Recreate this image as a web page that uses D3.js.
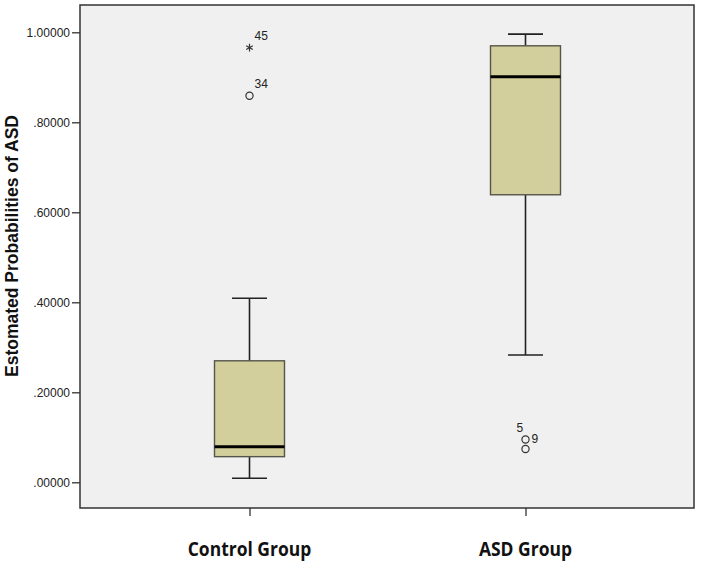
<!DOCTYPE html>
<html>
<head>
<meta charset="utf-8">
<script src="https://cdn.jsdelivr.net/npm/d3@7"></script>
<style>
html,body{margin:0;padding:0;background:#fff;}
svg{display:block;}
</style>
</head>
<body>
<svg id="chart" width="702" height="566"></svg>
<script>
const categories = ["Control Group", "ASD Group"];
const whiskerLow = [0.009, 0.283];
const q1 = [0.057, 0.639];
const median = [0.079, 0.901];
const q3 = [0.270, 0.970];
const whiskerHigh = [0.409, 0.996];
const outlierGroup = ["Control Group", "Control Group", "ASD Group", "ASD Group"];
const outlierValue = [0.966, 0.859, 0.095, 0.074];
const outlierType = ["star", "circle", "circle", "circle"];
const outlierLabel = ["45", "34", "5", "9"];
const yTicks = [0, 0.2, 0.4, 0.6, 0.8, 1.0];
const yTitle = "Estomated Probabilities of ASD";

(function () {
const svg = d3.select("#chart");
const pLeft = 80, pRight = 694, pTop = 5, pBottom = 508;

const y = d3.scaleLinear().domain([0, 1]).range([482.3, 32.3]);
const x = d3.scalePoint().domain(categories).range([249.5, 525.5]);

// plot background
svg.append("rect").attr("x", pLeft).attr("y", pTop).attr("width", pRight - pLeft).attr("height", pBottom - pTop)
  .attr("fill", "#f0f0f0").attr("stroke", "none");

const fmt = v => { const s = d3.format(".5f")(v); return s.startsWith("0") ? s.slice(1) : s; };

// y axis
const yAxis = d3.axisLeft(y).tickValues(yTicks).tickFormat(fmt).tickSize(8).tickPadding(2);
const gy = svg.append("g").attr("transform", `translate(${pLeft},0)`).call(yAxis);
gy.select(".domain").remove();
gy.selectAll(".tick line").attr("stroke", "#333").attr("stroke-width", 1.3);
gy.selectAll(".tick text").attr("font-family", "Arial, 'Liberation Sans', sans-serif").attr("font-size", "12px").attr("fill", "#222");

// x axis
const xAxis = d3.axisBottom(x).tickSize(8).tickFormat("");
const gx = svg.append("g").attr("transform", `translate(0,${pBottom})`).call(xAxis);
gx.select(".domain").remove();
gx.selectAll(".tick line").attr("stroke", "#333").attr("stroke-width", 1.3);

// x category labels
svg.append("g").selectAll("text").data(categories).join("text")
  .attr("x", d => x(d)).attr("y", 556)
  .attr("text-anchor", "middle")
  .attr("font-family", "'Open Sans', Arial, sans-serif")
  .attr("font-weight", "bold").attr("font-size", "19px").attr("fill", "#111")
  .attr("transform", d => `translate(${x(d)},556) scale(0.92,1) translate(${-x(d)},-556)`)
  .text(d => d);

// frame
svg.append("rect").attr("x", pLeft).attr("y", pTop).attr("width", pRight - pLeft).attr("height", pBottom - pTop)
  .attr("fill", "none").attr("stroke", "#333").attr("stroke-width", 1.5);

// y title
svg.append("text")
  .attr("transform", "translate(18,246) rotate(-90)")
  .attr("text-anchor", "middle")
  .attr("font-family", "Arial, 'Liberation Sans', sans-serif")
  .attr("font-weight", "bold").attr("font-size", "17.5px").attr("fill", "#111")
  .text(yTitle);

// boxes
const boxW = 70, capW = 35;
const g = svg.append("g");
categories.forEach((c, i) => {
  const cx = x(c);
  g.append("line").attr("x1", cx).attr("x2", cx).attr("y1", y(whiskerHigh[i])).attr("y2", y(q3[i]))
    .attr("stroke", "#222").attr("stroke-width", 1.6);
  g.append("line").attr("x1", cx).attr("x2", cx).attr("y1", y(q1[i])).attr("y2", y(whiskerLow[i]))
    .attr("stroke", "#222").attr("stroke-width", 1.6);
  g.append("line").attr("x1", cx - capW / 2).attr("x2", cx + capW / 2).attr("y1", y(whiskerHigh[i])).attr("y2", y(whiskerHigh[i]))
    .attr("stroke", "#222").attr("stroke-width", 1.6);
  g.append("line").attr("x1", cx - capW / 2).attr("x2", cx + capW / 2).attr("y1", y(whiskerLow[i])).attr("y2", y(whiskerLow[i]))
    .attr("stroke", "#222").attr("stroke-width", 1.6);
  g.append("rect").attr("x", cx - boxW / 2).attr("y", y(q3[i])).attr("width", boxW).attr("height", y(q1[i]) - y(q3[i]))
    .attr("fill", "#d3cf9c").attr("stroke", "#55554a").attr("stroke-width", 1.4);
  g.append("line").attr("x1", cx - boxW / 2).attr("x2", cx + boxW / 2).attr("y1", y(median[i])).attr("y2", y(median[i]))
    .attr("stroke", "#000").attr("stroke-width", 3);
});

// outliers
outlierValue.forEach((v, i) => {
  const cx = x(outlierGroup[i]), cy = y(v);
  if (outlierType[i] === "circle") {
    g.append("circle").attr("cx", cx).attr("cy", cy).attr("r", 3.6)
      .attr("fill", "none").attr("stroke", "#333").attr("stroke-width", 1.2);
  } else {
    g.append("path").attr("d", d3.symbol(d3.symbolAsterisk, 40)()).attr("transform", `translate(${cx},${cy})`)
      .attr("fill", "none").attr("stroke", "#333").attr("stroke-width", 1.2);
  }
});

// outlier labels
const labelDx = [5, 5, -9, 6];
const labelDy = [-8, -8, -8, -6];
outlierLabel.forEach((t, i) => {
  g.append("text")
    .attr("x", x(outlierGroup[i]) + labelDx[i]).attr("y", y(outlierValue[i]) + labelDy[i])
    .attr("font-family", "Arial, 'Liberation Sans', sans-serif").attr("font-size", "12px").attr("fill", "#222")
    .text(t);
});
})();
</script>
</body>
</html>
